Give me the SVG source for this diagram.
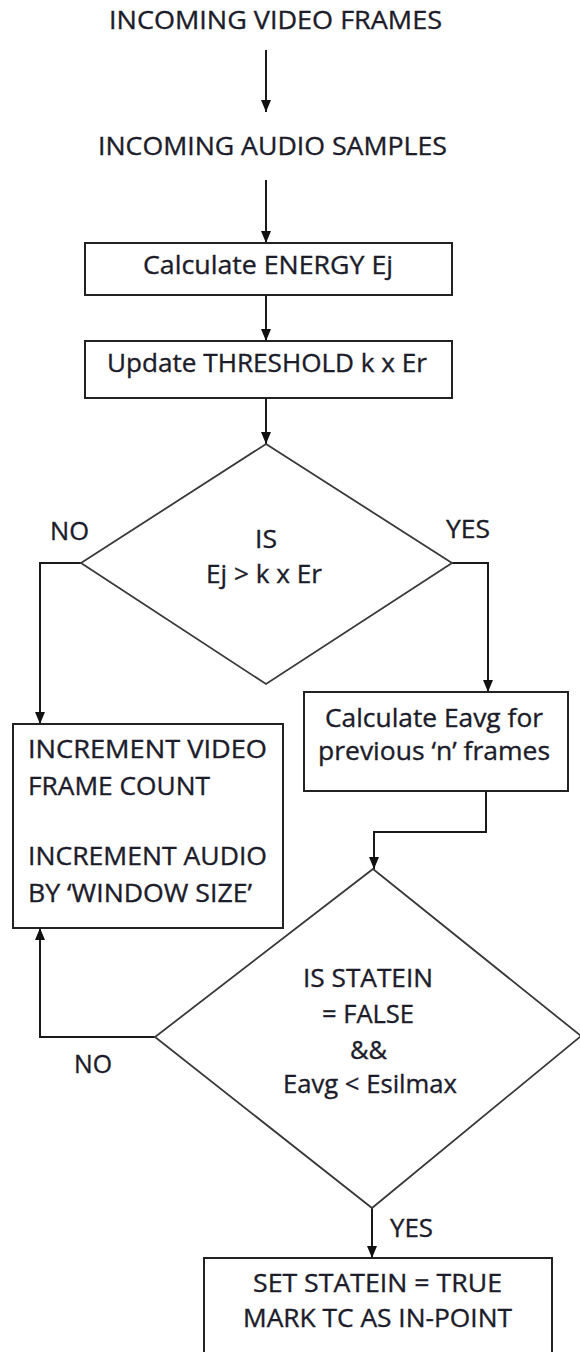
<svg xmlns="http://www.w3.org/2000/svg" width="580" height="1352" viewBox="0 0 580 1352">
  <defs>
    <marker id="arr" viewBox="0 0 12 10" refX="12" refY="5" markerWidth="12" markerHeight="10" orient="auto" markerUnits="userSpaceOnUse">
      <path d="M0,0 L12,5 L0,10 z" fill="#111"/>
    </marker>
    <style>
      text { font-family: "Open Sans", "Liberation Sans", sans-serif; font-size: 25px; fill: #1c1c2a; stroke: #1c1c2a; stroke-width: 0.35; }
      .c { text-anchor: middle; }
      .box { fill: #fff; stroke: #222; stroke-width: 2; }
      .dia { fill: #fff; stroke: #3a3a3a; stroke-width: 1.8; }
      .conn { fill: none; stroke: #1a1a1a; stroke-width: 2; marker-end: url(#arr); }
    </style>
  </defs>
  <rect width="580" height="1352" fill="#fff"/>

  <g id="connectors">
    <path class="conn" d="M266,50 L266,112"/>
    <path class="conn" d="M266,180 L266,243"/>
    <path class="conn" d="M266,295 L266,341"/>
    <path class="conn" d="M266,398 L266,444"/>
    <path class="conn" d="M81,563 L40,563 L40,724"/>
    <path class="conn" d="M452,563 L488,563 L488,692"/>
    <path class="conn" d="M486,791 L486,832 L374,832 L374,869"/>
    <path class="conn" d="M155,1037 L40,1037 L40,928"/>
    <path class="conn" d="M372,1208 L372,1258"/>
  </g>

  <g id="video-frames">
    <text x="275.5" y="29" class="c" textLength="333" lengthAdjust="spacingAndGlyphs">INCOMING VIDEO FRAMES</text>
  </g>
  <g id="audio-samples">
    <text x="272.5" y="155" class="c" textLength="349" lengthAdjust="spacingAndGlyphs">INCOMING AUDIO SAMPLES</text>
  </g>

  <g id="calc-energy">
    <rect class="box" x="85" y="243" width="367" height="52"/>
    <text x="268" y="274" class="c" textLength="250" lengthAdjust="spacingAndGlyphs">Calculate ENERGY Ej</text>
  </g>

  <g id="update-threshold">
    <rect class="box" x="85" y="341" width="367" height="57"/>
    <text x="267" y="372" class="c" textLength="320" lengthAdjust="spacingAndGlyphs">Update THRESHOLD k x Er</text>
  </g>

  <g id="decision-1">
    <polygon class="dia" points="266,444 452,563 266,684 81,563"/>
    <text x="266" y="548" class="c" textLength="22" lengthAdjust="spacingAndGlyphs">IS</text>
    <text x="264" y="583" class="c" textLength="116" lengthAdjust="spacingAndGlyphs">Ej &gt; k x Er</text>
  </g>
  <g id="label-no-1">
    <text x="50" y="540" textLength="39" lengthAdjust="spacingAndGlyphs">NO</text>
  </g>
  <g id="label-yes-1">
    <text x="446" y="538" textLength="44" lengthAdjust="spacingAndGlyphs">YES</text>
  </g>

  <g id="increment-box">
    <rect class="box" x="13" y="724" width="270" height="204"/>
    <text x="28" y="758" textLength="239" lengthAdjust="spacingAndGlyphs">INCREMENT VIDEO</text>
    <text x="28" y="795" textLength="182" lengthAdjust="spacingAndGlyphs">FRAME COUNT</text>
    <text x="28" y="865" textLength="239" lengthAdjust="spacingAndGlyphs">INCREMENT AUDIO</text>
    <text x="28" y="902" textLength="224" lengthAdjust="spacingAndGlyphs">BY ‘WINDOW SIZE’</text>
  </g>

  <g id="calc-eavg">
    <rect class="box" x="304" y="692" width="264" height="99"/>
    <text x="434" y="727" class="c" textLength="218" lengthAdjust="spacingAndGlyphs">Calculate Eavg for</text>
    <text x="434" y="760" class="c" textLength="232" lengthAdjust="spacingAndGlyphs">previous ‘n’ frames</text>
  </g>

  <g id="decision-2">
    <polygon class="dia" points="373,869 581,1036 372,1208 155,1037"/>
    <text x="368" y="987" class="c" textLength="130" lengthAdjust="spacingAndGlyphs">IS STATEIN</text>
    <text x="368" y="1023" class="c" textLength="92" lengthAdjust="spacingAndGlyphs">= FALSE</text>
    <text x="368.5" y="1059" class="c" textLength="37" lengthAdjust="spacingAndGlyphs">&amp;&amp;</text>
    <text x="370" y="1093" class="c" textLength="174" lengthAdjust="spacingAndGlyphs">Eavg &lt; Esilmax</text>
  </g>
  <g id="label-no-2">
    <text x="74" y="1073" textLength="38" lengthAdjust="spacingAndGlyphs">NO</text>
  </g>
  <g id="label-yes-2">
    <text x="390" y="1237" textLength="43" lengthAdjust="spacingAndGlyphs">YES</text>
  </g>

  <g id="set-statein">
    <rect class="box" x="204" y="1258" width="348" height="110"/>
    <text x="377.5" y="1292" class="c" textLength="249" lengthAdjust="spacingAndGlyphs">SET STATEIN = TRUE</text>
    <text x="377.5" y="1327" class="c" textLength="269" lengthAdjust="spacingAndGlyphs">MARK TC AS IN-POINT</text>
  </g>
</svg>
